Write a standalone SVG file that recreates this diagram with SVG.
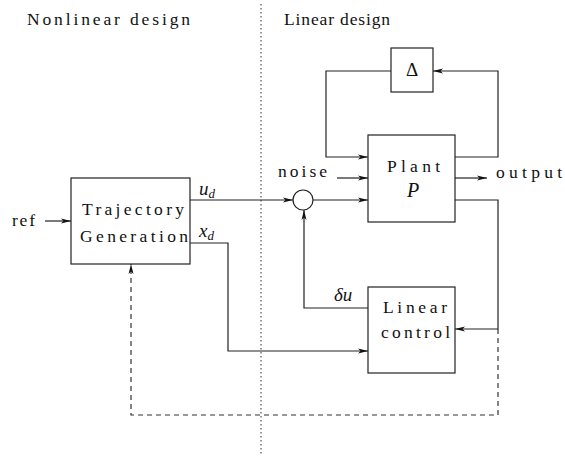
<svg xmlns="http://www.w3.org/2000/svg" width="565" height="456" viewBox="0 0 565 456">
<defs>
<marker id="arr" viewBox="0 0 10 6" refX="10" refY="3" markerWidth="10" markerHeight="6" markerUnits="userSpaceOnUse" orient="auto">
<path d="M0,0.5 L10,3 L0,5.5 L2.5,3 Z" fill="#111"/>
</marker>
</defs>
<style>
.box{fill:#fff;stroke:#222;stroke-width:1.2}
.ln{fill:none;stroke:#222;stroke-width:1.2}
.dash{fill:none;stroke:#333;stroke-width:1.2;stroke-dasharray:5,4}
.dot{fill:none;stroke:#555;stroke-width:1.2;stroke-dasharray:1.5,2.5}
.it{font-style:italic}
</style>
<g font-family="'Liberation Serif', 'DejaVu Serif', 'Times New Roman', serif" font-size="17.5" fill="#111">
<line class="dot" x1="261" y1="4" x2="261" y2="454"/>
<text x="27" y="25" textLength="163" lengthAdjust="spacing">Nonlinear design</text>
<text x="284" y="25" textLength="106" lengthAdjust="spacing">Linear design</text>
<g id="connectors">
<line class="ln" x1="45" y1="221" x2="71" y2="221" marker-end="url(#arr)"/>
<line class="ln" x1="190" y1="200" x2="293" y2="200" marker-end="url(#arr)"/>
<line class="ln" x1="313" y1="200" x2="368" y2="200" marker-end="url(#arr)"/>
<line class="ln" x1="337" y1="178" x2="368" y2="178" marker-end="url(#arr)"/>
<polyline class="ln" points="391,71 326,71 326,157 368,157" marker-end="url(#arr)"/>
<polyline class="ln" points="455,157 498,157 498,71 433,71" marker-end="url(#arr)"/>
<line class="ln" x1="455" y1="178" x2="487" y2="178" marker-end="url(#arr)"/>
<polyline class="ln" points="455,200 498,200 498,329 455,329" marker-end="url(#arr)"/>
<polyline class="ln" points="368,308 304,308 304,210" marker-end="url(#arr)"/>
<polyline class="ln" points="190,243 228,243 228,351 368,351" marker-end="url(#arr)"/>
<polyline class="dash" points="498,329 498,415 131,415 131,264" marker-end="url(#arr)"/>
<text x="12" y="226" textLength="23" lengthAdjust="spacing">ref</text>
<text x="199" y="195" class="it" font-size="19">u<tspan font-size="13" dy="3">d</tspan></text>
<text x="199" y="237" class="it" font-size="19">x<tspan font-size="13" dy="3">d</tspan></text>
<text x="278" y="177" textLength="49" lengthAdjust="spacing">noise</text>
<text x="496" y="178" textLength="66" lengthAdjust="spacing">output</text>
<text x="334" y="301" class="it" font-size="19">δu</text>
</g>
<g id="trajectory">
<rect class="box" x="71" y="178" width="119" height="86"/>
<text x="82" y="215" textLength="102" lengthAdjust="spacing">Trajectory</text>
<text x="80" y="242" textLength="108" lengthAdjust="spacing">Generation</text>
</g>
<g id="sum">
<circle cx="303" cy="200" r="10" fill="#fff" stroke="#222" stroke-width="1.2"/>
</g>
<g id="delta">
<rect class="box" x="391" y="48" width="42" height="44"/>
<text x="412" y="76" text-anchor="middle" font-size="19">Δ</text>
</g>
<g id="plant">
<rect class="box" x="368" y="135" width="87" height="87"/>
<text x="387" y="172" textLength="53" lengthAdjust="spacing">Plant</text>
<text x="413" y="197" class="it" text-anchor="middle" font-size="20">P</text>
</g>
<g id="linear">
<rect class="box" x="368" y="287" width="87" height="86"/>
<text x="383" y="313" textLength="64" lengthAdjust="spacing">Linear</text>
<text x="381" y="338" textLength="69" lengthAdjust="spacing">control</text>
</g>
</g>
</svg>
